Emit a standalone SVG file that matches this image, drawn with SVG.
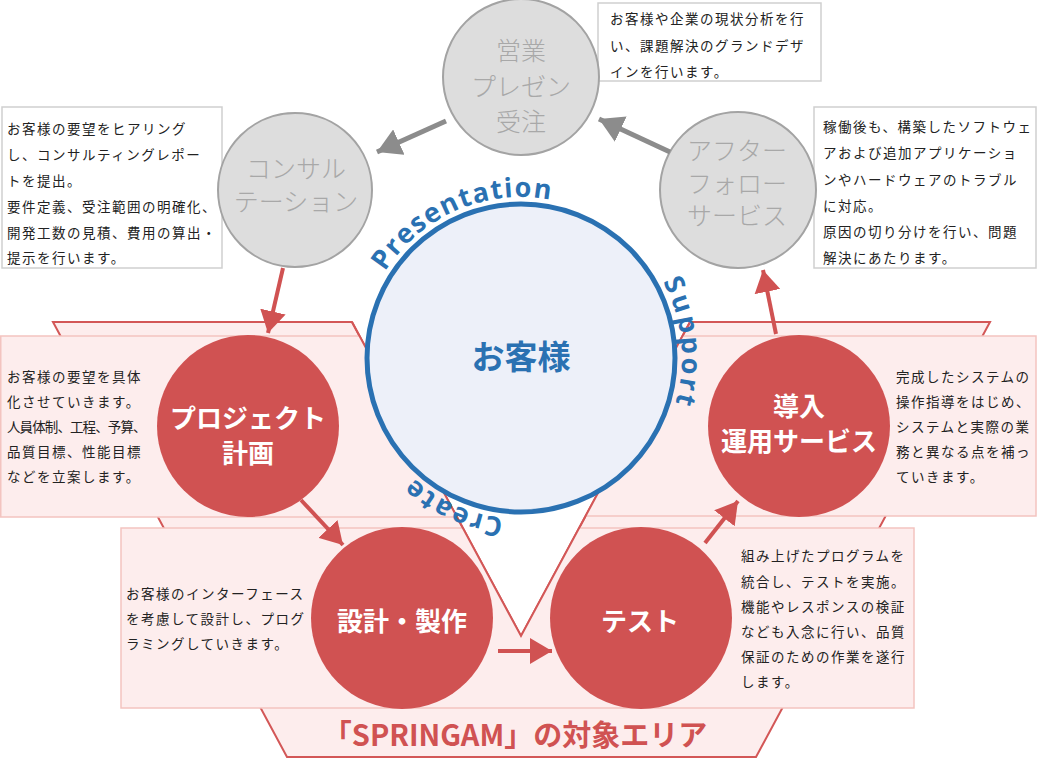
<svg xmlns="http://www.w3.org/2000/svg" xmlns:xlink="http://www.w3.org/1999/xlink" width="1038" height="759" viewBox="0 0 1038 759">
<defs>
<style>
.area{fill:#fdeded;stroke:#d35757;stroke-width:2}
.vline{fill:none;stroke:#d35757;stroke-width:2}
.pfill{fill:#fdeded;stroke:none}
.pedge{fill:none;stroke:#f3c4c0;stroke-width:1.5}
.gbox{fill:#ffffff;stroke:#cfcfcf;stroke-width:1.5}
.gcirc{fill:#dddddd;stroke:#a3a3a3;stroke-width:2}
.rcirc{fill:#d05252}
.bcirc{fill:#edf0f9;stroke:#2a71b2;stroke-width:5}
.glab{font-family:"Noto Sans CJK JP","Noto Sans",sans-serif;font-size:25px;font-weight:300;fill:#a8a8a8;text-anchor:middle}
.rlab{font-family:"Noto Sans CJK JP","Noto Sans",sans-serif;font-size:26px;font-weight:700;fill:#ffffff;text-anchor:middle}
.body{font-family:"Noto Sans CJK JP","Noto Sans",sans-serif;font-size:13.5px;letter-spacing:1.5px;fill:#222222}
.arc{font-family:"Open Sans","Liberation Sans",sans-serif;font-size:27px;font-weight:700;fill:#2a71b2;letter-spacing:1.5px}
.ra{stroke:#d05252;stroke-width:4;fill:none}
.ga{stroke:#8c8c8c;stroke-width:5;fill:none}
</style>
<marker id="ahR" viewBox="0 0 22 26" refX="22" refY="13" markerWidth="22" markerHeight="26" markerUnits="userSpaceOnUse" orient="auto">
<path d="M0,0 L22,13 L0,26 z" fill="#d05252"/>
</marker>
<marker id="ahG" viewBox="0 0 24 28" refX="24" refY="14" markerWidth="24" markerHeight="28" markerUnits="userSpaceOnUse" orient="auto">
<path d="M0,0 L24,14 L0,28 z" fill="#8c8c8c"/>
</marker>
<path id="ring" d="M 360 358 A 161 161 0 1 1 682 358 A 161 161 0 1 1 360 358"/>
</defs>

<g id="area">
<polygon class="area" points="53,322 352,322 521,636 690,322 990,322 756,757 287,757"/>
</g>

<g id="boxes">
<polygon class="pfill" points="0,336 359.5,336 457,517 0,517"/>
<path class="pedge" d="M359.5,336 H0.75 V517 H457"/>
<polygon class="pfill" points="682.5,336 1036,336 1036,516 585.6,516"/>
<path class="pedge" d="M682.5,336 H1036 V516 H585.6"/>
<polygon class="pfill" points="121,528 463,528 521,636 579,528 914,528 914,708 121,708"/>
<path class="pedge" d="M463,528 H121 V708 H914 V528 H579"/>
<polyline class="vline" points="352,322 521,636 690,322"/>
<rect class="gbox" x="598" y="3" width="223" height="78"/>
<rect class="gbox" x="2" y="107" width="220" height="161"/>
<rect class="gbox" x="814" y="107" width="222" height="161"/>
</g>

<g id="customer">
<circle class="bcirc" cx="521" cy="358" r="154"/>
<text x="521" y="368.5" font-family="'Noto Sans CJK JP','Noto Sans',sans-serif" font-size="33" font-weight="700" fill="#2a71b2" text-anchor="middle">お客様</text>
<text class="arc"><textPath xlink:href="#ring" href="#ring" startOffset="91">Presentation</textPath></text>
<text class="arc" style="letter-spacing:3px"><textPath xlink:href="#ring" href="#ring" startOffset="426">Support</textPath></text>
<text class="arc" style="letter-spacing:2px"><textPath xlink:href="#ring" href="#ring" startOffset="776">Create</textPath></text>
</g>

<g id="sales">
<circle class="gcirc" cx="521" cy="77" r="78"/>
<text class="glab" x="521" y="59.5">営業</text>
<text class="glab" x="521" y="95.5">プレゼン</text>
<text class="glab" x="521" y="130.5">受注</text>
</g>

<g id="consult">
<circle class="gcirc" cx="295" cy="190" r="77"/>
<text class="glab" x="296" y="177.5">コンサル</text>
<text class="glab" x="296" y="210.5">テーション</text>
</g>

<g id="after">
<circle class="gcirc" cx="738" cy="190" r="78"/>
<text class="glab" x="737" y="160">アフター</text>
<text class="glab" x="737" y="192.5">フォロー</text>
<text class="glab" x="737" y="225">サービス</text>
</g>

<g id="plan">
<circle class="rcirc" cx="248" cy="426" r="91"/>
<text class="rlab" x="248" y="428">プロジェクト</text>
<text class="rlab" x="248" y="463">計画</text>
</g>

<g id="intro">
<circle class="rcirc" cx="799" cy="426" r="91"/>
<text class="rlab" x="799" y="416">導入</text>
<text class="rlab" x="799" y="451">運用サービス</text>
</g>

<g id="design">
<circle class="rcirc" cx="402" cy="618" r="91"/>
<text class="rlab" x="402" y="631">設計・製作</text>
</g>

<g id="test">
<circle class="rcirc" cx="641" cy="618" r="91"/>
<text class="rlab" x="640" y="631">テスト</text>
</g>

<g id="connectors">
<line class="ga" x1="446" y1="121" x2="377" y2="152" marker-end="url(#ahG)"/>
<line class="ga" x1="670" y1="152" x2="599" y2="119" marker-end="url(#ahG)"/>
<line class="ra" x1="283" y1="268" x2="268" y2="333" marker-end="url(#ahR)"/>
<line class="ra" x1="301" y1="500" x2="343" y2="545" marker-end="url(#ahR)"/>
<line class="ra" x1="498" y1="651" x2="552" y2="651" marker-end="url(#ahR)"/>
<line class="ra" x1="705" y1="543" x2="738" y2="501" marker-end="url(#ahR)"/>
<line class="ra" x1="776" y1="334" x2="763" y2="270" marker-end="url(#ahR)"/>
</g>

<g id="texts">
<text class="body" x="610" y="24">お客様や企業の現状分析を行</text>
<text class="body" x="610" y="51">い、課題解決のグランドデザ</text>
<text class="body" x="610" y="77">インを行います。</text>

<text class="body" x="7" y="134">お客様の要望をヒアリング</text>
<text class="body" x="7" y="160">し、コンサルティングレポー</text>
<text class="body" x="7" y="186">トを提出。</text>
<text class="body" x="7" y="212">要件定義、受注範囲の明確化、</text>
<text class="body" x="7" y="238">開発工数の見積、費用の算出・</text>
<text class="body" x="7" y="263">提示を行います。</text>

<text class="body" x="823" y="132">稼働後も、構築したソフトウェ</text>
<text class="body" x="823" y="158">アおよび追加アプリケーショ</text>
<text class="body" x="823" y="185">ンやハードウェアのトラブル</text>
<text class="body" x="823" y="211">に対応。</text>
<text class="body" x="823" y="237">原因の切り分けを行い、問題</text>
<text class="body" x="823" y="263">解決にあたります。</text>

<text class="body" x="7" y="382">お客様の要望を具体</text>
<text class="body" x="7" y="407">化させていきます。</text>
<text class="body" x="7" y="432" textLength="141" lengthAdjust="spacing">人員体制、工程、予算、</text>
<text class="body" x="7" y="457">品質目標、性能目標</text>
<text class="body" x="7" y="482">などを立案します。</text>

<text class="body" x="896" y="382">完成したシステムの</text>
<text class="body" x="896" y="407">操作指導をはじめ、</text>
<text class="body" x="896" y="432">システムと実際の業</text>
<text class="body" x="896" y="457">務と異なる点を補っ</text>
<text class="body" x="896" y="482">ていきます。</text>

<text class="body" x="126" y="599">お客様のインターフェース</text>
<text class="body" x="126" y="624">を考慮して設計し、プログ</text>
<text class="body" x="126" y="649">ラミングしていきます。</text>

<text class="body" x="741" y="561">組み上げたプログラムを</text>
<text class="body" x="741" y="587">統合し、テストを実施。</text>
<text class="body" x="741" y="612">機能やレスポンスの検証</text>
<text class="body" x="741" y="637">なども入念に行い、品質</text>
<text class="body" x="741" y="662">保証のための作業を遂行</text>
<text class="body" x="741" y="687">します。</text>

<text x="515" y="746" font-family="'Noto Sans CJK JP','Noto Sans',sans-serif" font-size="29" font-weight="700" fill="#d05252" text-anchor="middle">「SPRINGAM」の対象エリア</text>
</g>
</svg>
